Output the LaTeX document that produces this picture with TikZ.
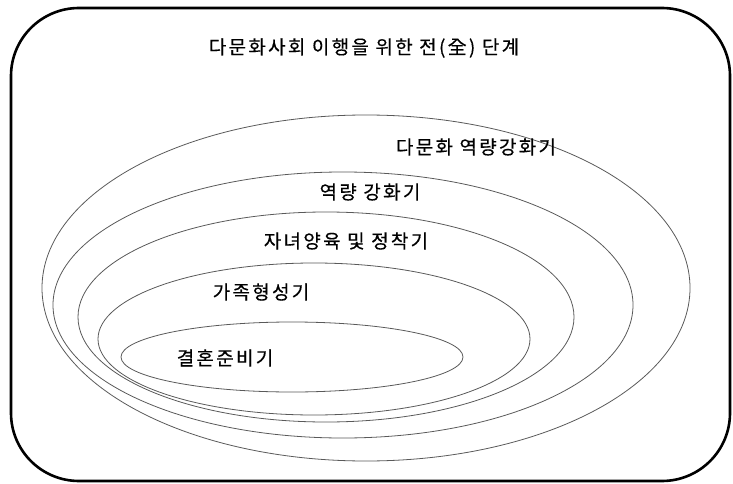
\documentclass[tikz,border=0pt]{standalone}
\usepackage{fontspec}
\newfontfamily\kofont[LetterSpace=12,FakeBold=0.4]{Noto Sans CJK KR}
\usetikzlibrary{positioning}

\begin{document}
\begin{tikzpicture}[
    x=1pt, y=-1pt,
    frame/.style={line width=2.6pt, rounded corners=68pt},
    ring/.style={draw=black!65, line width=0.8pt},
    lbl/.style={font=\kofont\fontsize{19}{21}\selectfont, inner sep=0pt}
]
\useasboundingbox (0,0) rectangle (733,484);

% Outer frame
\draw[frame] (11,8) rectangle (730,481);
\node[lbl] (title) at (364,48) {다문화사회 이행을 위한 전(全) 단계};

% Nested stages, outermost first
\draw[ring] (366,288) ellipse [x radius=324, y radius=173];
\draw[ring] (343,305) ellipse [x radius=290, y radius=133];
\draw[ring] (326,317) ellipse [x radius=248, y radius=105];
\draw[ring] (314,339) ellipse [x radius=216, y radius=76];
\draw[ring] (292,357) ellipse [x radius=171, y radius=35];

% Stage labels
\node[lbl] (multi) at (476,147) {다문화 역량강화기};
\node[lbl] (cap) at (370,192) {역량 강화기};
\node[lbl] (child) at (346,241) {자녀양육 및 정착기};
\node[lbl] (family) at (261,292) {가족형성기};
\node[lbl] (wed) at (225,358) {결혼준비기};
\end{tikzpicture}
\end{document}
